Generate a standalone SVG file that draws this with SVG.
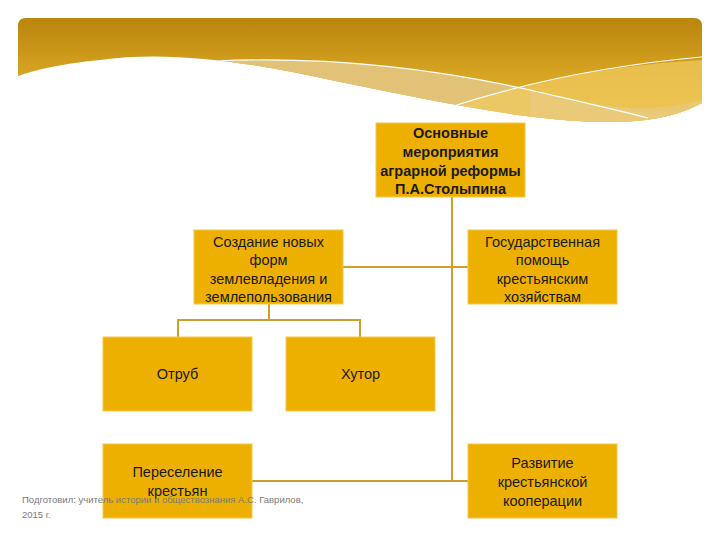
<svg xmlns="http://www.w3.org/2000/svg" width="720" height="540" viewBox="0 0 720 540">
<defs>
<linearGradient id="gold" x1="0" y1="0" x2="0" y2="1">
<stop offset="0" stop-color="#B9850B"/>
<stop offset="0.5" stop-color="#D7A322"/>
<stop offset="1" stop-color="#EBB937"/>
</linearGradient>
<clipPath id="hdr">
<path d="M26,18 H694 Q702,18 702,26 V103 C680,115 650,123 600,122 C520,120 430,100 340,82 C250,62 170,50 100,60 C60,64 35,70 18,76 V26 Q18,18 26,18 Z"/>
</clipPath>
<style>
.box{fill:#EEB000;stroke:#F3C84A;stroke-width:1}
.t{font-family:"Liberation Sans",Arial,sans-serif;font-size:14.5px;fill:#1a1a1a;text-anchor:middle}
.b{font-weight:bold;font-size:14.5px}
.c{fill:none;stroke:#CF9F2A;stroke-width:2}
.foot{font-family:"Liberation Sans",Arial,sans-serif;font-size:9.5px;fill:#7a7a7a}
</style>
</defs>
<rect width="720" height="540" fill="#fff"/>
<g id="header" clip-path="url(#hdr)">
<rect x="18" y="18" width="684" height="110" fill="url(#gold)"/>
<path d="M216,61 C330,56 440,70 530,90 C600,106 650,118 702,112 V130 H200 Z" fill="#E2C277"/>
<path d="M447,108 C520,84 600,66 702,60 V130 H447 Z" fill="#EFC95E" opacity="0.75"/>
<path d="M530,90 C600,106 640,116 702,100 V130 H530 Z" fill="#EACB82" opacity="0.7"/>
<path d="M216,61 C330,56 440,70 530,90 C590,104 625,112 648,118" fill="none" stroke="#fff" stroke-width="1.2"/>
<path d="M447,108 C520,84 600,66 702,57" fill="none" stroke="#fff" stroke-width="1.2"/>
</g>
<g id="connectors">
<path class="c" d="M452,197 V481"/>
<path class="c" d="M343,267 H468"/>
<path class="c" d="M269,304 V320 M178,337 V320 H360 V337"/>
<path class="c" d="M252,481 H468"/>
</g>
<g id="root">
<rect class="box" x="376" y="123" width="149" height="74"/>
<text class="t b" x="450.5" y="138">Основные</text>
<text class="t b" x="450.5" y="157">мероприятия</text>
<text class="t b" x="450.5" y="176">аграрной реформы</text>
<text class="t b" x="450.5" y="194">П.А.Столыпина</text>
</g>
<g id="sozdanie">
<rect class="box" x="194" y="230" width="149" height="74"/>
<text class="t" x="268.5" y="247">Создание новых</text>
<text class="t" x="268.5" y="265">форм</text>
<text class="t" x="268.5" y="284">землевладения и</text>
<text class="t" x="268.5" y="302">землепользования</text>
</g>
<g id="gospomosh">
<rect class="box" x="468" y="230" width="149" height="74"/>
<text class="t" x="542.5" y="247">Государственная</text>
<text class="t" x="542.5" y="265">помощь</text>
<text class="t" x="542.5" y="284">крестьянским</text>
<text class="t" x="542.5" y="302">хозяйствам</text>
</g>
<g id="otrub">
<rect class="box" x="103" y="337" width="149" height="74"/>
<text class="t" x="177.5" y="379">Отруб</text>
</g>
<g id="khutor">
<rect class="box" x="286" y="337" width="149" height="74"/>
<text class="t" x="360.5" y="379">Хутор</text>
</g>
<g id="pereselenie">
<rect class="box" x="103" y="444" width="149" height="74"/>
<text class="t" x="177.5" y="477">Переселение</text>
<text class="t" x="177.5" y="496">крестьян</text>
</g>
<g id="razvitie">
<rect class="box" x="468" y="444" width="149" height="74"/>
<text class="t" x="542.5" y="468">Развитие</text>
<text class="t" x="542.5" y="487">крестьянской</text>
<text class="t" x="542.5" y="506">кооперации</text>
</g>
<g id="footer">
<text class="foot" x="22" y="503">Подготовил: учитель истории и обществознания А.С. Гаврилов,</text>
<text class="foot" x="22" y="518">2015 г.</text>
</g>
</svg>
